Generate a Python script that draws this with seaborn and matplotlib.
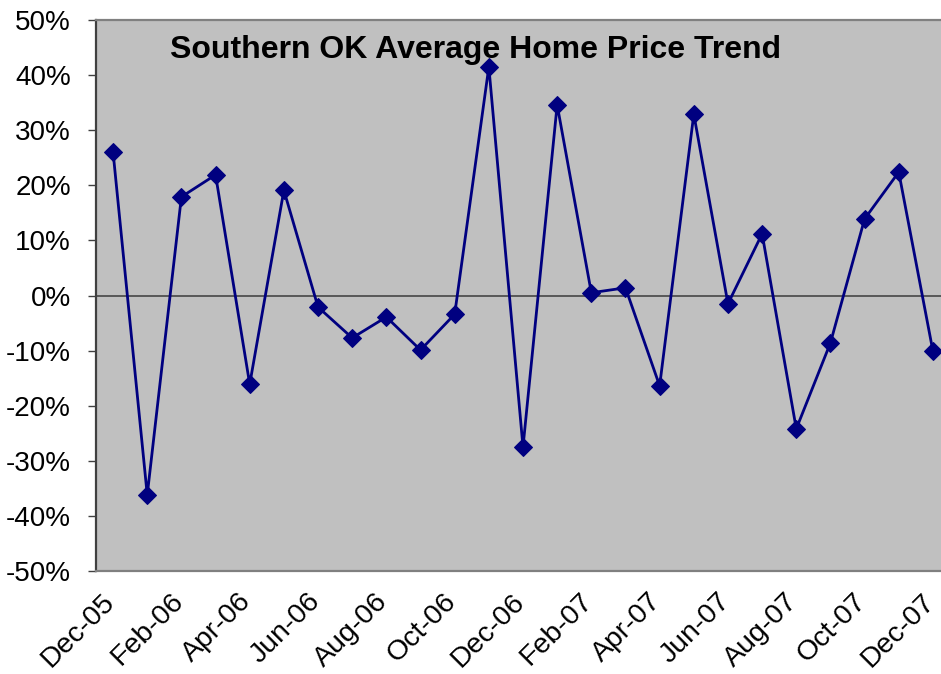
import matplotlib
matplotlib.use("Agg")
import matplotlib.pyplot as plt
import matplotlib.transforms as mtransforms
import seaborn as sns
import pandas as pd
from matplotlib.ticker import FuncFormatter

months = ["Dec-05", "Jan-06", "Feb-06", "Mar-06", "Apr-06", "May-06", "Jun-06",
          "Jul-06", "Aug-06", "Sep-06", "Oct-06", "Nov-06", "Dec-06", "Jan-07",
          "Feb-07", "Mar-07", "Apr-07", "May-07", "Jun-07", "Jul-07", "Aug-07",
          "Sep-07", "Oct-07", "Nov-07", "Dec-07"]
change_pct = [26.0, -36.2, 17.9, 21.9, -16.1, 19.1, -2.1, -7.7, -3.9, -9.9,
              -3.4, 41.5, -27.5, 34.6, 0.5, 1.4, -16.4, 32.9, -1.5, 11.2,
              -24.2, -8.6, 13.9, 22.4, -10.1]
title = "Southern OK Average Home Price Trend"

sns.set_style("white")
plt.rcParams['font.family'] = ['Liberation Sans', 'DejaVu Sans']

df = pd.DataFrame({"idx": range(len(months)), "month": months, "pct": change_pct})

W, H = 941, 674
fig = plt.figure(figsize=(W / 100, H / 100), dpi=100)
left, right, top, bottom = 96, 950, 20, 571
ax = fig.add_axes([left / W, (H - bottom) / H, (right - left) / W, (bottom - top) / H])
ax.set_facecolor("#C0C0C0")

ax.axhline(0, color="#505050", lw=1.3, zorder=1)
sns.lineplot(data=df, x="idx", y="pct", ax=ax, color="#000080", lw=2.0,
             marker="D", markersize=9, markeredgecolor="#000080", zorder=3)

ax.set_xlim(-0.5, len(months) - 0.5)
ax.set_ylim(-50, 50)
ax.set_yticks(range(-50, 51, 10))
ax.yaxis.set_major_formatter(FuncFormatter(lambda v, p: f"{int(round(v))}%"))
ax.set_xticks(range(0, len(months), 2))
ax.set_xticklabels(months[::2], rotation=45, ha="right", va="top")
ax.set_xlabel("")
ax.set_ylabel("")

ax.tick_params(axis="y", left=True, length=6, width=1, color="#404040",
               labelsize=20, pad=12, labelcolor="black")
ax.tick_params(axis="x", bottom=False, labelsize=20.5, pad=9, labelcolor="black")
offset = mtransforms.ScaledTranslation(7 / 100, 0, fig.dpi_scale_trans)
for lbl in ax.get_xticklabels():
    lbl.set_transform(lbl.get_transform() + offset)

for s in ["top", "bottom", "right"]:
    ax.spines[s].set_color("#808080")
    ax.spines[s].set_linewidth(1.6)
ax.spines["left"].set_color("#404040")
ax.spines["left"].set_linewidth(1.6)

fig.text(170 / W, 1 - 58 / H, title, fontsize=23, fontweight="bold",
         ha="left", va="baseline", color="black")

fig.savefig("out.png", dpi=100)
